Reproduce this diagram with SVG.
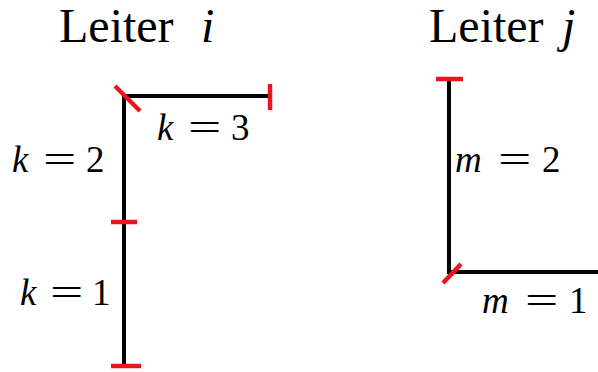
<svg xmlns="http://www.w3.org/2000/svg" width="598" height="372" viewBox="0 0 598 372">
<style>
text{font-family:"Liberation Serif","DejaVu Serif",serif;fill:#000}
.t{font-size:48px}
.m{font-size:37px}
.i{font-style:italic}
.w{stroke:#000;stroke-width:4;fill:none}
.r{stroke:#e8141e;stroke-width:4.5;fill:none}
</style>
<rect width="598" height="372" fill="#fff"/>
<g id="title-i"><text class="t" y="42"><tspan x="59">Leiter</tspan><tspan class="i" x="201">i</tspan></text></g>
<g id="title-j"><text class="t" y="42"><tspan x="429">Leiter</tspan><tspan class="i" x="562">j</tspan></text></g>
<g id="connectors">
<path class="w" d="M124,366 V96 H270"/>
<path class="w" d="M449,79 V272 H598"/>
</g>
<g id="conductor-i">
<path class="r" d="M111,366 H141"/>
<path class="r" d="M111,222 H137"/>
<path class="r" d="M115,86 L140,111"/>
<path class="r" d="M270,84 V110"/>
<text class="m" y="172"><tspan class="i" x="12">k</tspan><tspan x="86">2</tspan></text>
<text class="m" transform="translate(43,172) scale(1.6,1)">=</text>
<text class="m" y="305"><tspan class="i" x="20">k</tspan><tspan x="92">1</tspan></text>
<text class="m" transform="translate(50,305) scale(1.6,1)">=</text>
<text class="m" y="140"><tspan class="i" x="157">k</tspan><tspan x="231">3</tspan></text>
<text class="m" transform="translate(188,140) scale(1.6,1)">=</text>
</g>
<g id="conductor-j">
<path class="r" d="M436,79 H463"/>
<path class="r" d="M443,283 L461,264"/>
<text class="m" y="172"><tspan class="i" x="455">m</tspan><tspan x="542">2</tspan></text>
<text class="m" transform="translate(498,172) scale(1.6,1)">=</text>
<text class="m" y="313"><tspan class="i" x="482">m</tspan><tspan x="569">1</tspan></text>
<text class="m" transform="translate(525,313) scale(1.6,1)">=</text>
</g>
</svg>
